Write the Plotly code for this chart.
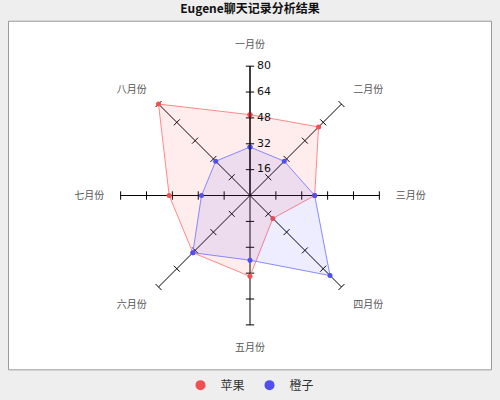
import plotly.graph_objects as go

months = ["一月份", "二月份", "三月份", "四月份", "五月份", "六月份", "七月份", "八月份"]
apple = [50, 60, 40, 20, 50, 50, 50, 80]
orange = [30, 30, 40, 70, 40, 50, 30, 30]
tick_values = [16, 32, 48, 64, 80]
tick_labels = ["16", "32", "48", "64", "80"]
series_names = ["苹果", "橙子"]

W, H = 500, 400
cx, cy, R = 250, 198, 131

fig = go.Figure()

# tick marks on each spoke
spoke_angles = [i * 360 / len(months) for i in range(len(months))]
tr, tt, ta = [], [], []
for m, ang in zip(months, spoke_angles):
    for v in tick_values:
        tr.append(v)
        tt.append(m)
        ta.append(ang)
fig.add_trace(go.Scatterpolar(
    r=tr, theta=tt, mode="markers",
    marker=dict(symbol="line-ew", size=6, angle=ta, angleref="up",
                line=dict(color="black", width=1)),
    showlegend=False, hoverinfo="skip", cliponaxis=False))

colors = [("rgba(255,60,60,0.09)", "rgba(255,110,110,0.8)", "#f05050"),
          ("rgba(60,60,255,0.09)", "rgba(110,110,255,0.8)", "#5050f0")]
for name, vals, (fc, lc, mc) in zip(series_names, [apple, orange], colors):
    fig.add_trace(go.Scatterpolar(
        r=vals + vals[:1], theta=months + months[:1], name=name,
        mode="lines+markers", fill="toself", fillcolor=fc,
        line=dict(color=lc, width=1),
        marker=dict(color=mc, size=5, symbol="circle"),
        legendgroup=name, showlegend=False,
        cliponaxis=False))
    fig.add_trace(go.Scatterpolar(
        r=[None], theta=[months[0]], name=name, mode="markers",
        marker=dict(color=mc, size=10, symbol="circle"),
        legendgroup=name, showlegend=True))

# radial tick labels to the right of the vertical axis
fig.add_trace(go.Scatterpolar(
    r=tick_values, theta=[months[0]] * len(tick_values), mode="text",
    text=["\u00a0\u00a0" + t for t in tick_labels], textposition="middle right",
    textfont=dict(size=11, color="#111111", family="DejaVu Sans, sans-serif"),
    showlegend=False, hoverinfo="skip", cliponaxis=False))

fig.update_layout(
    width=W, height=H,
    margin=dict(l=0, r=0, t=0, b=0),
    paper_bgcolor="#eeeeee",
    font=dict(family="Noto Sans CJK SC, DejaVu Sans, sans-serif", size=10, color="#555555"),
    title=dict(text="<b>Eugene聊天记录分析结果</b>", x=0.5, xanchor="center",
               y=1 - 9 / H, yanchor="middle",
               font=dict(size=12, color="#111111")),
    polar=dict(
        domain=dict(x=[(cx - R) / W, (cx + R) / W],
                    y=[(H - cy - R) / H, (H - cy + R) / H]),
        bgcolor="rgba(0,0,0,0)",
        angularaxis=dict(direction="clockwise", rotation=90,
                         showline=False, showgrid=True, gridcolor="black", gridwidth=1,
                         ticks="outside", ticklen=14, tickcolor="rgba(0,0,0,0)",
                         tickfont=dict(size=10, color="#555555")),
        radialaxis=dict(range=[0, 80], angle=90,
                        tickvals=tick_values, ticks="", showgrid=False,
                        showticklabels=False,
                        showline=True, linecolor="black", linewidth=1),
    ),
    legend=dict(orientation="h", x=0.5, xanchor="center", y=1 - 390 / H, yanchor="middle",
                font=dict(size=12, color="#333333"), itemwidth=30,
                bgcolor="rgba(0,0,0,0)"),
    shapes=[dict(type="rect", xref="paper", yref="paper",
                 x0=8.5 / W, x1=491.5 / W, y0=1 - 374.5 / H, y1=1 - 21.5 / H,
                 fillcolor="white", line=dict(color="#999999", width=1), layer="below")],
)

fig.write_html("out.html", config={"displayModeBar": False},
               post_script="document.body.style.margin='0';")
